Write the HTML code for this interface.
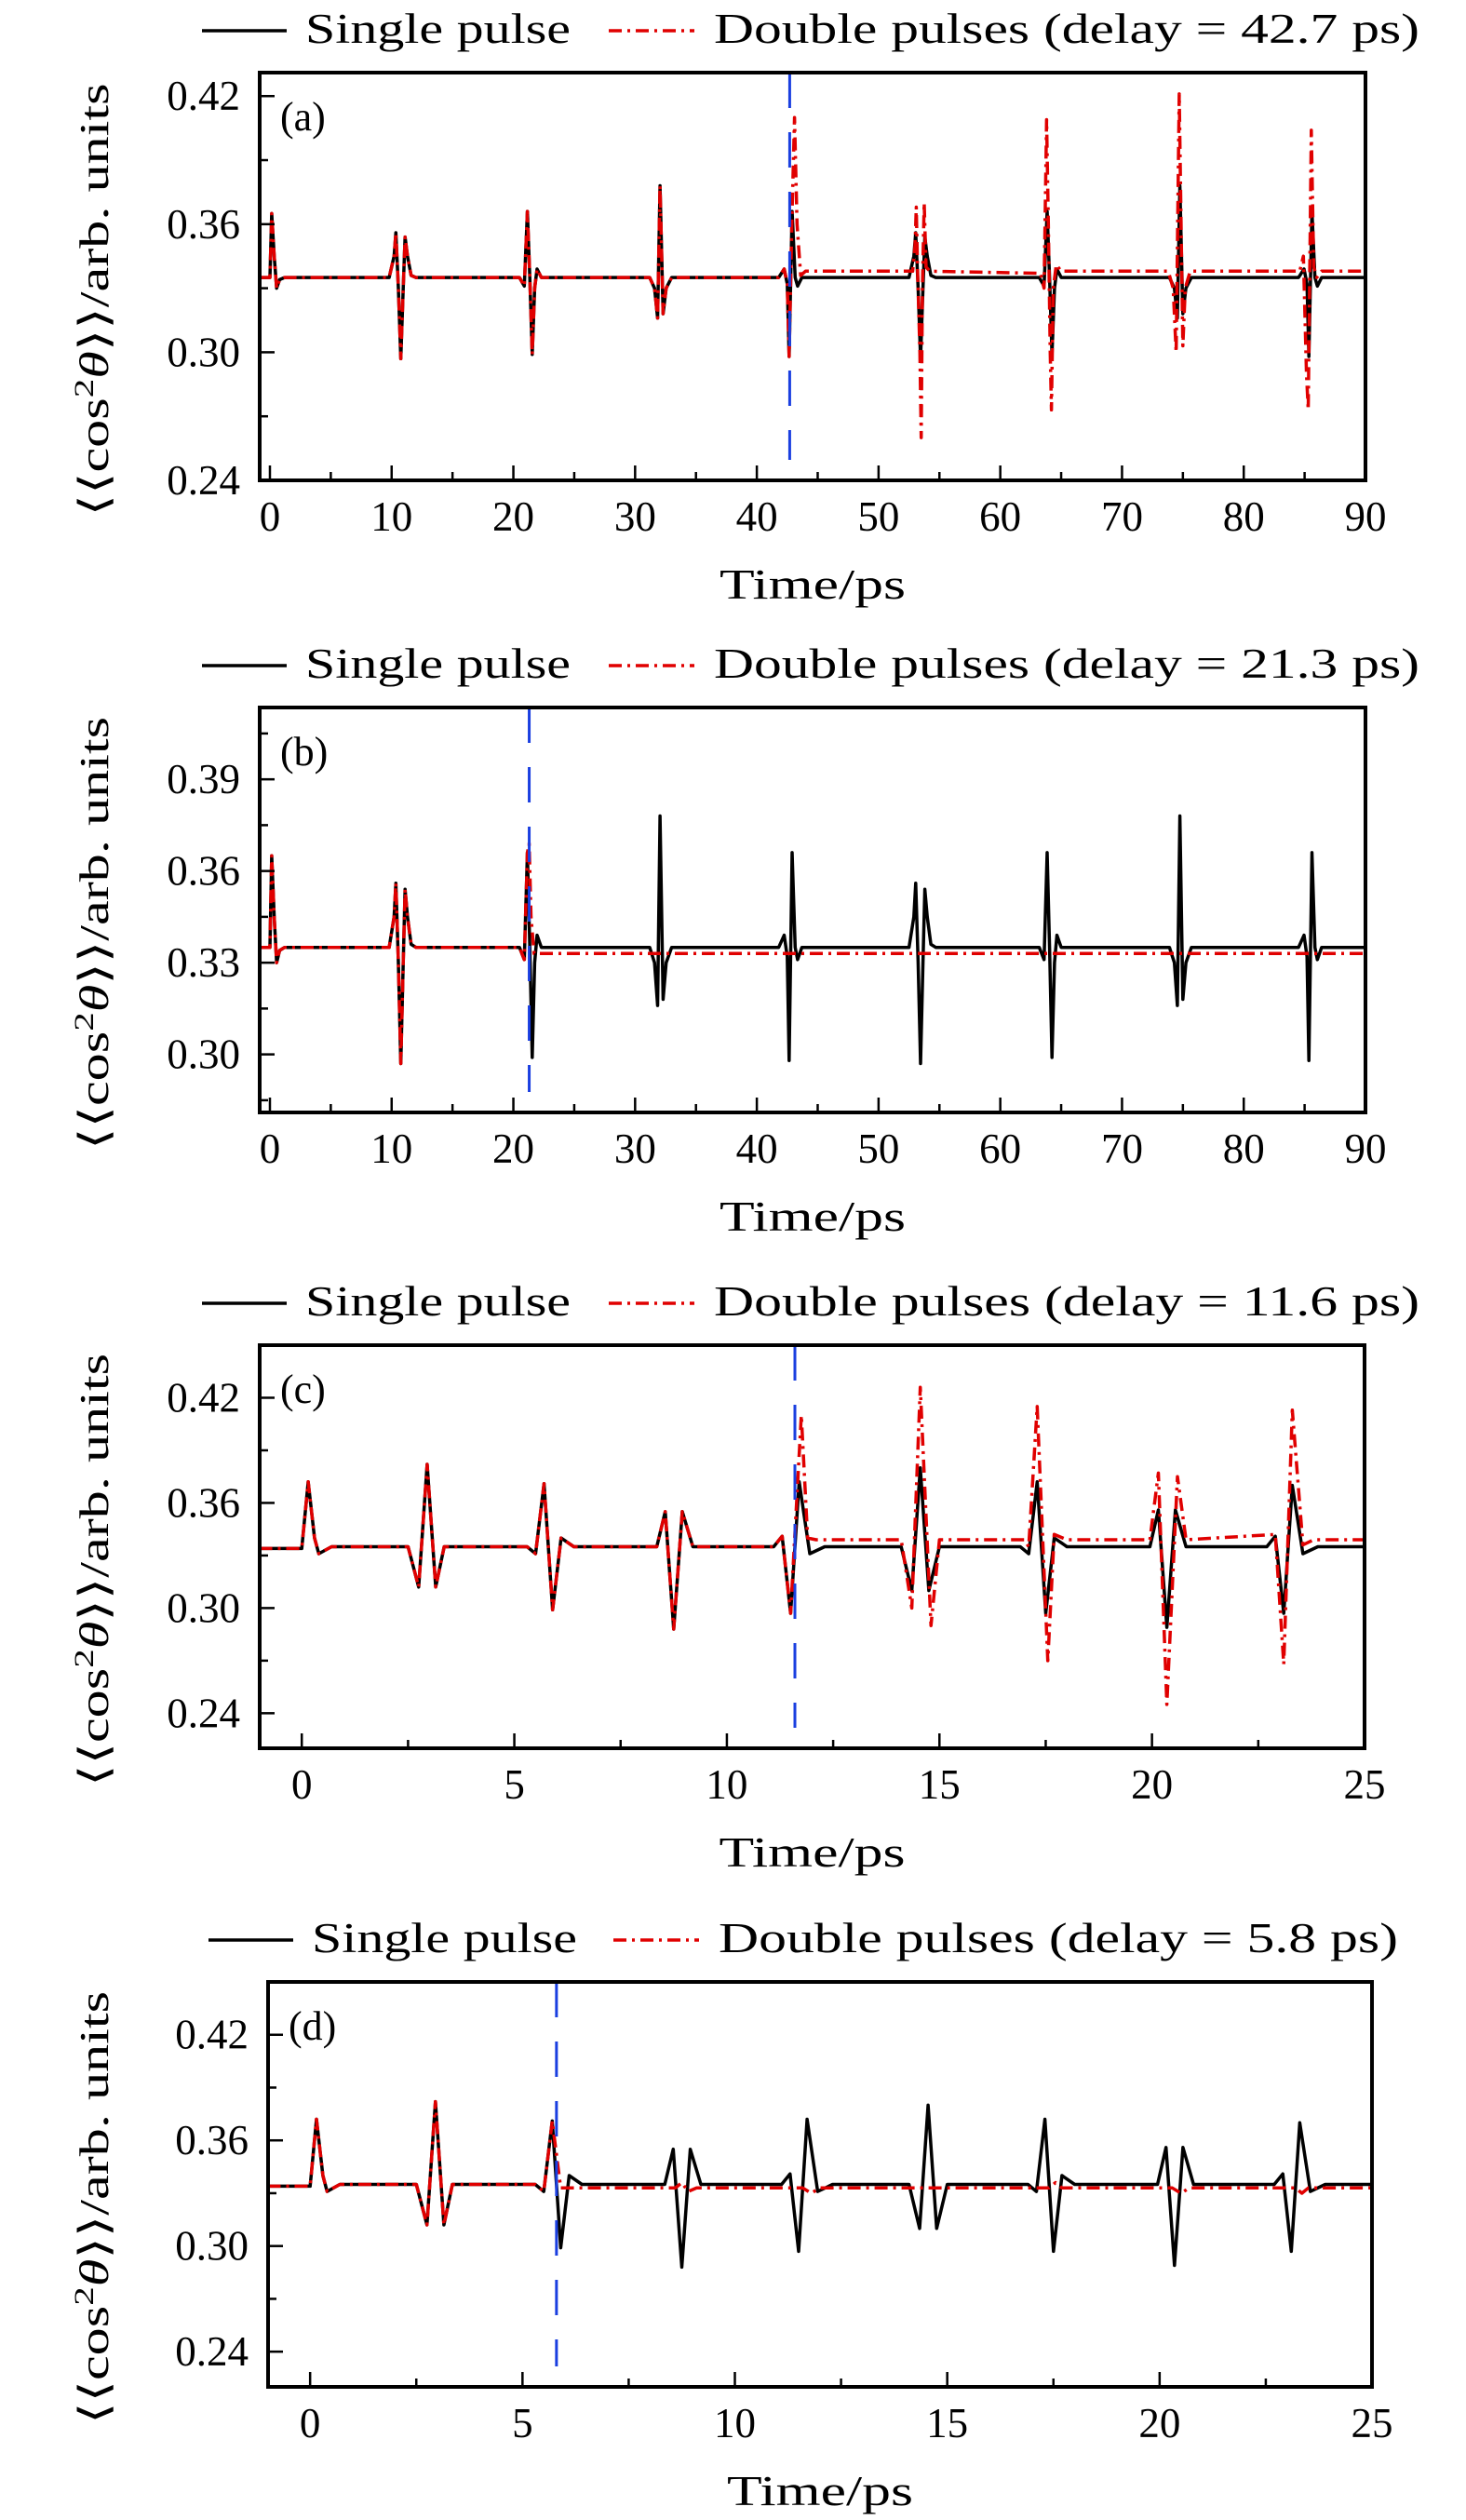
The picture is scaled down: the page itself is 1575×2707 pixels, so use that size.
<!DOCTYPE html>
<html><head><meta charset="utf-8"><style>
html,body{margin:0;padding:0;background:#fff}
svg{display:block}
text{font-family:"Liberation Serif","DejaVu Serif",serif;fill:#000}
</style></head><body>
<svg id="fig" width="1575" height="2707" viewBox="0 0 1575 2707" xmlns="http://www.w3.org/2000/svg"></svg>
<script>
// ---- data ----
const singleA = [[-0.8,0.335],[0,0.335],[0.15,0.365],[0.35,0.345],[0.55,0.330],[0.8,0.334],[1.2,0.335],
[9.8,0.335],[10.2,0.345],[10.35,0.356],[10.55,0.33],[10.75,0.297],[10.95,0.33],[11.1,0.354],[11.3,0.345],[11.6,0.336],[12,0.335],
[20.5,0.335],[20.9,0.331],[21.15,0.366],[21.35,0.335],[21.55,0.299],[21.75,0.33],[21.95,0.339],[22.3,0.335],
[31.2,0.335],[31.6,0.330],[31.85,0.316],[32.05,0.378],[32.3,0.318],[32.55,0.33],[33,0.335],
[41.8,0.335],[42.25,0.339],[42.5,0.332],[42.65,0.298],[42.9,0.366],[43.15,0.335],[43.35,0.331],[43.7,0.335],
[52.5,0.335],[52.9,0.345],[53.05,0.356],[53.25,0.33],[53.45,0.297],[53.65,0.33],[53.8,0.354],[54.0,0.345],[54.3,0.336],[54.7,0.335],
[63.2,0.335],[63.6,0.331],[63.85,0.366],[64.05,0.335],[64.25,0.299],[64.45,0.33],[64.65,0.339],[65,0.335],
[73.9,0.335],[74.3,0.330],[74.55,0.316],[74.75,0.378],[75.0,0.318],[75.25,0.33],[75.7,0.335],
[84.5,0.335],[84.95,0.339],[85.2,0.332],[85.35,0.298],[85.6,0.366],[85.85,0.335],[86.05,0.331],[86.4,0.335],[90,0.335]];
const doubleATail = [[43.1,0.41],[43.3,0.36],[43.6,0.336],[44,0.338],
[52.8,0.338],[53.0,0.35],[53.1,0.368],[53.2,0.34],[53.4,0.30],[53.5,0.26],[53.6,0.33],[53.75,0.37],[53.9,0.34],[54.2,0.338],
[63.3,0.337],[63.6,0.330],[63.8,0.409],[63.95,0.36],[64.1,0.30],[64.2,0.273],[64.35,0.33],[64.6,0.341],[65,0.338],
[73.8,0.338],[74.2,0.33],[74.45,0.30],[74.7,0.421],[74.85,0.36],[75.0,0.303],[75.2,0.33],[75.6,0.338],
[84.6,0.338],[84.9,0.345],[85.15,0.29],[85.3,0.273],[85.55,0.404],[85.75,0.34],[86,0.335],[86.4,0.338],[90,0.338]];
const doubleBTail = [[21.3,0.369],[21.45,0.345],[21.7,0.333],[90,0.333]];
const singleC = [[-1,0.334],[0,0.334],[0.15,0.372],[0.3,0.34],[0.4,0.331],[0.7,0.335],
[2.5,0.335],[2.75,0.312],[2.95,0.382],[3.15,0.312],[3.35,0.335],
[5.3,0.335],[5.5,0.331],[5.7,0.371],[5.9,0.299],[6.1,0.340],[6.4,0.335],
[8.35,0.335],[8.55,0.355],[8.75,0.288],[8.95,0.355],[9.2,0.335],
[11.1,0.335],[11.3,0.341],[11.5,0.297],[11.7,0.372],[11.95,0.331],[12.3,0.335],
[14.1,0.335],[14.35,0.310],[14.55,0.380],[14.75,0.310],[15,0.335],
[16.9,0.335],[17.1,0.331],[17.3,0.372],[17.5,0.297],[17.7,0.340],[18,0.335],
[19.95,0.335],[20.15,0.356],[20.35,0.289],[20.55,0.356],[20.8,0.335],
[22.7,0.335],[22.9,0.341],[23.1,0.297],[23.3,0.370],[23.55,0.331],[23.9,0.335],[25,0.335]];
const doubleCTail = [[11.75,0.41],[11.9,0.34],[12.1,0.339],
[14.1,0.339],[14.35,0.30],[14.55,0.426],[14.8,0.29],[15,0.339],
[17.0,0.339],[17.1,0.335],[17.3,0.415],[17.55,0.27],[17.7,0.342],[18,0.339],
[19.95,0.339],[20.15,0.377],[20.35,0.245],[20.6,0.375],[20.8,0.339],
[22.9,0.342],[23.1,0.268],[23.3,0.413],[23.55,0.336],[23.8,0.339],[25,0.339]];
const doubleDTail = [[5.9,0.333],[8.6,0.333],[8.75,0.336],[8.9,0.331],[9.1,0.333],[11.6,0.333],[11.8,0.330],[12,0.333],[17.4,0.333],[17.55,0.336],[17.7,0.333],[20.3,0.333],[20.5,0.330],[20.7,0.333],[23.2,0.333],[23.35,0.330],[23.5,0.333],[25,0.333]];
const delays = [42.7, 21.3, 11.6, 5.8];
const panelLabels = ["(a)","(b)","(c)","(d)"];
const xTicksA = [0,10,20,30,40,50,60,70,80,90];
const xTicksC = [0,5,10,15,20,25];
const yTicksA = [0.24,0.30,0.36,0.42];
const yTicksB = [0.30,0.33,0.36,0.39];
const yTicksLabB = ["0.30","0.33","0.36","0.39"];
const legendDelays = ["42.7","21.3","11.6","5.8"];

const NS="http://www.w3.org/2000/svg";
const svg=document.getElementById('fig');
function el(tag,attrs,parent){const e=document.createElementNS(NS,tag);for(const k in attrs)e.setAttribute(k,attrs[k]);(parent||svg).appendChild(e);return e;}

const panels=[
 {id:'a',L:279,R:1467,T:78,B:516,xmin:-0.84,xmax:90,ymin:0.24,ymax:0.431,xt:xTicksA,xminor:5,yt:yTicksA,yl:["0.24","0.30","0.36","0.42"],yminor:0.03,
  single:singleA,dbl:singleA.filter(p=>p[0]<43).concat(doubleATail),legX:217,legT2:767,legW2:758},
 {id:'b',L:279,R:1467,T:760,B:1195,xmin:-0.84,xmax:90,ymin:0.281,ymax:0.4135,xt:xTicksA,xminor:5,yt:yTicksB,yl:yTicksLabB,yminor:0.015,
  single:singleA,dbl:singleA.filter(p=>p[0]<21.25).concat(doubleBTail),legX:217,legT2:767,legW2:758},
 {id:'c',L:279,R:1466,T:1445,B:1878,xmin:-0.99,xmax:25,ymin:0.220,ymax:0.450,xt:xTicksC,xminor:2.5,yt:yTicksA,yl:["0.24","0.30","0.36","0.42"],yminor:0.03,
  single:singleC,dbl:singleC.filter(p=>p[0]<11.6).concat(doubleCTail),legX:217,legT2:767,legW2:758},
 {id:'d',L:288,R:1474,T:2129,B:2564,xmin:-0.99,xmax:25,ymin:0.220,ymax:0.450,xt:xTicksC,xminor:2.5,yt:yTicksA,yl:["0.24","0.30","0.36","0.42"],yminor:0.03,
  single:singleC,dbl:singleC.filter(p=>p[0]<5.9).concat(doubleDTail),legX:224,legT2:772,legW2:730}
];

panels.forEach((p,i)=>{
 const g=el('g',{});
 
 
 const sx=v=>p.L+(v-p.xmin)/(p.xmax-p.xmin)*(p.R-p.L);
 const sy=v=>p.B-(v-p.ymin)/(p.ymax-p.ymin)*(p.B-p.T);
 // legend
 const lg=el('g',{},g);
 
 
 const lb=p.T-32, ly=lb-13;
 const l1=el('line',{x1:p.legX,y1:ly,x2:p.legX+91,y2:ly,stroke:'#000','stroke-width':3.5},lg);
 
 
 const t1=el('text',{x:p.legX+111,y:lb,'font-size':45,textLength:285,lengthAdjust:'spacingAndGlyphs'},lg);t1.textContent='Single pulse';
 
 
 const rx=p.legT2-113;
 const l2=el('line',{x1:rx,y1:ly,x2:rx+92,y2:ly,stroke:'#e00000','stroke-width':3.5,'stroke-dasharray':'14,6,3,6'},lg);
 
 
 const t2=el('text',{x:p.legT2,y:lb,'font-size':45,textLength:p.legW2,lengthAdjust:'spacingAndGlyphs'},lg);t2.textContent='Double pulses (delay = '+legendDelays[i]+' ps)';
 
 
 // clip
 const cp=el('clipPath',{id:'clip'+p.id},g);el('rect',{x:p.L,y:p.T,width:p.R-p.L,height:p.B-p.T},cp);
 // series
 const toPts=arr=>arr.map(q=>sx(q[0]).toFixed(1)+','+sy(q[1]).toFixed(1)).join(' ');
 const s=el('polyline',{points:toPts(p.single),fill:'none',stroke:'#000','stroke-width':3.5,'stroke-linejoin':'round','clip-path':'url(#clip'+p.id+')'},g);
 
 
 const d=el('polyline',{points:toPts(p.dbl),fill:'none',stroke:'#e00000','stroke-width':3.5,'stroke-dasharray':'14,6,3,6','stroke-linejoin':'round','clip-path':'url(#clip'+p.id+')'},g);
 
 
 // delay marker
 const bx=sx(delays[i]);
 const bl=el('line',{x1:bx,y1:p.T,x2:bx,y2:p.B-22,stroke:'#1a3fe0','stroke-width':3,'stroke-dasharray':'38,26'},g);
 
 
 // frame
 const fr=el('rect',{x:p.L,y:p.T,width:p.R-p.L,height:p.B-p.T,fill:'none',stroke:'#000','stroke-width':4},g);
 
 
 // x ticks
 for(let v=p.xt[0];v<=p.xt[p.xt.length-1]+1e-6;v+=p.xminor){
   const major=p.xt.some(t=>Math.abs(t-v)<1e-6);
   el('line',{x1:sx(v),y1:p.B,x2:sx(v),y2:p.B-(major?16:9),stroke:'#000','stroke-width':2.5},g);
 }
 p.xt.forEach(v=>{const t=el('text',{x:sx(v),y:p.B+54,'font-size':45,'text-anchor':'middle'},g);t.textContent=v;
   
   });
 // y ticks
 for(let v=p.yt[0]-p.yminor;v<=p.ymax;v+=p.yminor){
   if(v<p.ymin) continue;
   const major=p.yt.some(t=>Math.abs(t-v)<1e-6);
   el('line',{x1:p.L,y1:sy(v),x2:p.L+(major?16:9),y2:sy(v),stroke:'#000','stroke-width':2.5},g);
 }
 p.yt.forEach((v,k)=>{const t=el('text',{x:p.L-21,y:sy(v)+15,'font-size':45,'text-anchor':'end'},g);t.textContent=p.yl[k];
   
   });
 // panel label
 const pl=el('text',{x:p.L+22,y:p.T+62,'font-size':44},g);pl.textContent=panelLabels[i];
 
 
 // axis titles
 const xt=el('text',{x:(p.L+p.R)/2,y:p.B+127,'font-size':46,'text-anchor':'middle',textLength:200,lengthAdjust:'spacingAndGlyphs'},g);xt.textContent='Time/ps';
 
 
 const cy=(p.T+p.B)/2+25;
 const yt=el('text',{x:0,y:0,'font-size':44,'text-anchor':'middle',textLength:465,lengthAdjust:'spacingAndGlyphs',transform:'translate(116,'+cy+') rotate(-90)'},g);
 yt.innerHTML='⟨⟨cos<tspan dy="-16" font-size="30">2</tspan><tspan dy="16" font-style="italic">θ</tspan>⟩⟩/arb. units';
 
 
});
</script>
</body></html>
